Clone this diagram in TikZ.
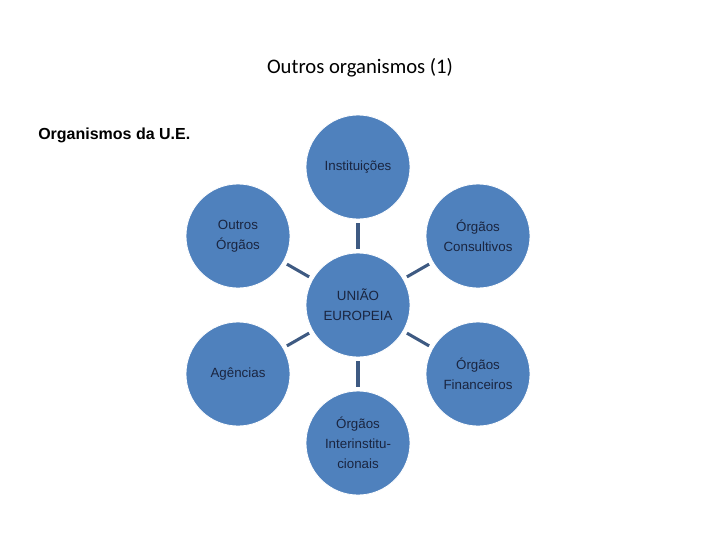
\documentclass[tikz,border=0pt]{standalone}
\usepackage{fontspec}
\setmainfont{Liberation Sans}
\newfontfamily\calib{Carlito}
\begin{document}
\begin{tikzpicture}[x=0.75pt,y=-0.75pt,
  circ/.style={circle,fill=cfill,draw=white,line width=0.6pt,minimum size=78pt,inner sep=0pt,align=center,text=ctext,font=\fontsize{10}{15}\selectfont},
  conn/.style={draw=cline,line width=2.3pt,shorten <=3pt,shorten >=3pt}]
\definecolor{cfill}{HTML}{4F81BD}
\definecolor{cline}{HTML}{3E5A82}
\definecolor{ctext}{HTML}{1A2540}
\useasboundingbox (0,0) rectangle (720,540);
\node[font=\calib\fontsize{15.5}{18}\selectfont] (title) at (360,68) {Outros organismos (1)};
\node[anchor=west,font=\bfseries\fontsize{12}{14}\selectfont,inner sep=0pt] (org) at (38,135) {Organismos da U.E.};
\node[circ] (c) at (358,305) {UNIÃO\\EUROPEIA};
\node[circ] (t) at (358,167) {Instituições};
\node[circ] (ul) at (238,236) {Outros\\Órgãos};
\node[circ] (ur) at (478,236) {Órgãos\\Consultivos};
\node[circ] (ll) at (238,374) {Agências};
\node[circ] (lr) at (478,374) {Órgãos\\Financeiros};
\node[circ] (b) at (358,443) {Órgãos\\Interinstitu-\\cionais};
\foreach \n in {t,ul,ur,ll,lr,b} \draw[conn] (c) -- (\n);
\end{tikzpicture}
\end{document}
